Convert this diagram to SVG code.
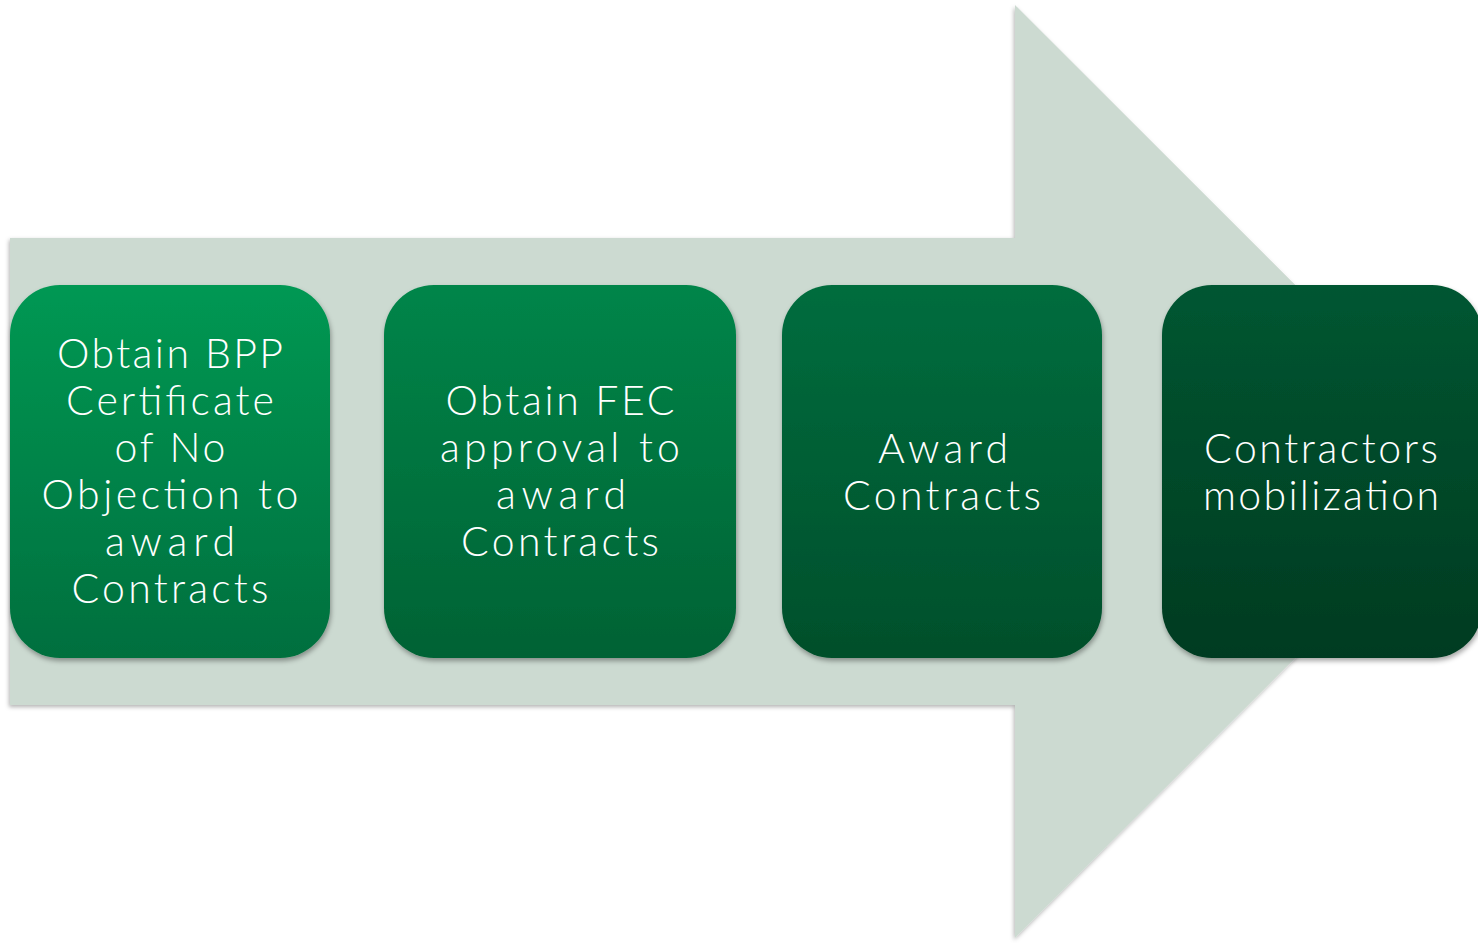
<svg xmlns="http://www.w3.org/2000/svg" width="1478" height="943" viewBox="0 0 1478 943">
<style>
.lbl{font-family:"Lato","Liberation Sans","DejaVu Sans",sans-serif;font-size:41px;fill:#ffffff;text-anchor:middle;font-weight:300}
</style>
<defs>
<filter id="sh" x="-5%" y="-5%" width="110%" height="115%">
<feDropShadow dx="1" dy="3" stdDeviation="2.5" flood-color="#000" flood-opacity="0.35"/>
</filter>
<filter id="sh2" x="-5%" y="-5%" width="110%" height="110%">
<feDropShadow dx="-1" dy="2" stdDeviation="2" flood-color="#000" flood-opacity="0.3"/>
</filter>
<linearGradient id="g1" x1="0" y1="0" x2="0" y2="1"><stop offset="0" stop-color="#009853"/><stop offset="1" stop-color="#006F3E"/></linearGradient>
<linearGradient id="g2" x1="0" y1="0" x2="0" y2="1"><stop offset="0" stop-color="#008549"/><stop offset="1" stop-color="#006234"/></linearGradient>
<linearGradient id="g3" x1="0" y1="0" x2="0" y2="1"><stop offset="0" stop-color="#006D3E"/><stop offset="1" stop-color="#004F2B"/></linearGradient>
<linearGradient id="g4" x1="0" y1="0" x2="0" y2="1"><stop offset="0" stop-color="#005631"/><stop offset="1" stop-color="#003B21"/></linearGradient>
</defs>
<g id="arrow">
<polygon points="10,238 1015,238 1015,5 1482,471.5 1015,938 1015,705 10,705" fill="#CCDAD1" filter="url(#sh2)"/>
</g>
<g id="connectors"></g>
<g id="node1">
<rect x="10" y="285" width="320" height="373" rx="50" ry="50" fill="url(#g1)" filter="url(#sh)"/>
<text class="lbl" x="170" y="368" textLength="226" lengthAdjust="spacing">Obtain BPP</text>
<text class="lbl" x="170" y="415" textLength="208" lengthAdjust="spacing">Certificate</text>
<text class="lbl" x="170" y="462" textLength="111" lengthAdjust="spacing">of No</text>
<text class="lbl" x="170" y="509" textLength="257" lengthAdjust="spacing">Objection to</text>
<text class="lbl" x="170" y="556" textLength="130" lengthAdjust="spacing">award</text>
<text class="lbl" x="170" y="603" textLength="197" lengthAdjust="spacing">Contracts</text>
</g>
<g id="node2">
<rect x="384" y="285" width="352" height="373" rx="50" ry="50" fill="url(#g2)" filter="url(#sh)"/>
<text class="lbl" x="560" y="415" textLength="229" lengthAdjust="spacing">Obtain FEC</text>
<text class="lbl" x="560" y="462" textLength="240" lengthAdjust="spacing">approval to</text>
<text class="lbl" x="561" y="509" textLength="130" lengthAdjust="spacing">award</text>
<text class="lbl" x="560" y="556" textLength="198" lengthAdjust="spacing">Contracts</text>
</g>
<g id="node3">
<rect x="782" y="285" width="320" height="373" rx="50" ry="50" fill="url(#g3)" filter="url(#sh)"/>
<text class="lbl" x="943" y="463" textLength="130" lengthAdjust="spacing">Award</text>
<text class="lbl" x="942" y="510" textLength="198" lengthAdjust="spacing">Contracts</text>
</g>
<g id="node4">
<rect x="1162" y="285" width="320" height="373" rx="50" ry="50" fill="url(#g4)" filter="url(#sh)"/>
<text class="lbl" x="1321" y="463" textLength="234" lengthAdjust="spacing">Contractors</text>
<text class="lbl" x="1321" y="510" textLength="236" lengthAdjust="spacing">mobilization</text>
</g>
</svg>
